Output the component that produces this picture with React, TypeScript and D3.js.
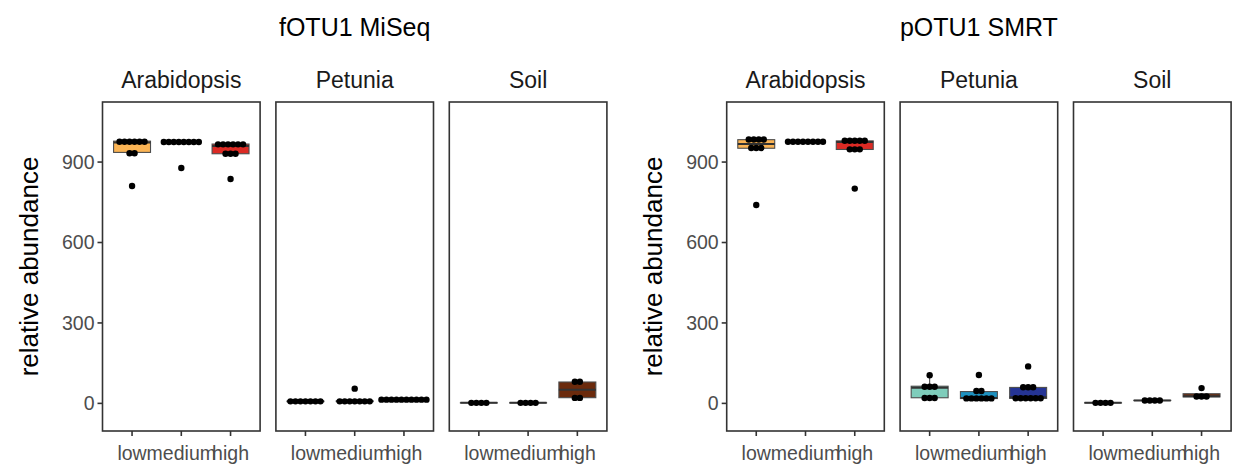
import React from "react";
import * as d3 from "d3";

// ---- data ----
const titles = ["fOTU1 MiSeq", "pOTU1 SMRT"];
const hosts = ["Arabidopsis", "Petunia", "Soil"];
const levels = ["low", "medium", "high"];
const yTicks = [0, 300, 600, 900];

// MiSeq (fOTU1) values per host: [low, medium, high]
const miseqArabidopsis = [
  [982, 980, 978, 975, 973, 970, 936, 930, 811],
  [978, 977, 976, 975, 975, 974, 973, 972, 878],
  [974, 970, 968, 965, 962, 958, 934, 930, 928, 837],
];
const miseqPetunia = [
  [10, 9, 8, 8, 7, 6, 5],
  [55, 10, 9, 8, 8, 7, 6, 5],
  [17, 16, 15, 15, 14, 14, 13, 12, 12, 11],
];
const miseqSoil = [
  [3, 2, 2, 1],
  [3, 2, 2, 1],
  [82, 79, 22, 19],
];

// SMRT (pOTU1) values per host: [low, medium, high]
const smrtArabidopsis = [
  [988, 985, 983, 980, 955, 952, 950, 740],
  [978, 977, 976, 976, 975, 975, 974, 973],
  [984, 981, 979, 977, 975, 950, 947, 945, 801],
];
const smrtPetunia = [
  [105, 66, 62, 58, 22, 20, 18],
  [106, 48, 44, 22, 20, 19, 18, 17, 15],
  [138, 62, 60, 58, 24, 22, 20, 18, 16, 14],
];
const smrtSoil = [
  [3, 2, 2, 1],
  [12, 11, 11, 10],
  [57, 29, 25, 22],
];

const fillArabidopsis = ["#FBB454", "#B3141B", "#DC2A24"];
const fillPetunia = ["#7FCDBB", "#1D91C0", "#253494"];
const fillSoil = ["#D9D9D9", "#969696", "#6B2A0C"];

const chartData = [
  [miseqArabidopsis, miseqPetunia, miseqSoil],
  [smrtArabidopsis, smrtPetunia, smrtSoil],
];
const fills = [fillArabidopsis, fillPetunia, fillSoil];

// ---- layout ----
const W = 1238;
const H = 468;
const chartLefts = [102.5, 726.7];
const panelW = 157.6;
const panelGap = 15.8;
const panelTop = 102;
const panelBottom = 431;
const FONT = "'Liberation Sans', Arial, Helvetica, sans-serif";

const y = d3.scaleLinear().domain([-103, 1124]).range([panelBottom, panelTop]);

function boxStats(vals: number[]) {
  const s = [...vals].sort(d3.ascending);
  const q1 = d3.quantileSorted(s, 0.25)!;
  const med = d3.quantileSorted(s, 0.5)!;
  const q3 = d3.quantileSorted(s, 0.75)!;
  const iqr = q3 - q1;
  const lo = s.filter((v) => v >= q1 - 1.5 * iqr);
  const hi = s.filter((v) => v <= q3 + 1.5 * iqr);
  return { q1, med, q3, wlo: d3.min(lo)!, whi: d3.max(hi)! };
}

function dotBins(vals: number[], bw: number) {
  const s = [...vals].sort(d3.ascending);
  const bins: { c: number; n: number }[] = [];
  let i = 0;
  while (i < s.length) {
    const start = s[i];
    let j = i;
    while (j < s.length && s[j] < start + bw) j++;
    const grp = s.slice(i, j);
    bins.push({ c: (grp[0] + grp[grp.length - 1]) / 2, n: grp.length });
    i = j;
  }
  return bins;
}

function Panel({ x0, vals, fill, host, showY }: any) {
  const x = d3.scalePoint<string>().domain(levels).range([x0, x0 + panelW]).padding(0.6);
  const step = x.step();
  const bw = 0.75 * step;
  return (
    <g>
      <text x={x0 + panelW / 2} y={88} textAnchor="middle" fontSize={23} fill="#1A1A1A" fontFamily={FONT}>
        {host}
      </text>
      {levels.map((lv, i) => {
        const st = boxStats(vals[i]);
        const cx = x(lv)!;
        const bins = dotBins(vals[i], 20);
        return (
          <g key={lv}>
            <line x1={cx} x2={cx} y1={y(st.whi)} y2={y(st.q3)} stroke="#4D4D4D" strokeWidth={1.1} />
            <line x1={cx} x2={cx} y1={y(st.q1)} y2={y(st.wlo)} stroke="#4D4D4D" strokeWidth={1.1} />
            <rect
              x={cx - bw / 2}
              y={y(st.q3)}
              width={bw}
              height={Math.max(0, y(st.q1) - y(st.q3))}
              fill={fill[i]}
              stroke="#4D4D4D"
              strokeWidth={1.1}
            />
            <line x1={cx - bw / 2} x2={cx + bw / 2} y1={y(st.med)} y2={y(st.med)} stroke="#333333" strokeWidth={2} />
            {bins.map((b, k) =>
              d3.range(b.n).map((j) => (
                <circle
                  key={k + "-" + j}
                  cx={cx + (j - (b.n - 1) / 2) * 5}
                  cy={y(b.c)}
                  r={3.2}
                  fill="#000"
                />
              ))
            )}
            <line x1={cx} x2={cx} y1={panelBottom} y2={panelBottom + 5} stroke="#333333" strokeWidth={1.6} />
            <text x={cx} y={panelBottom + 29} textAnchor="middle" fontSize={19.5} fill="#4D4D4D" fontFamily={FONT}>
              {lv}
            </text>
          </g>
        );
      })}
      <rect x={x0} y={panelTop} width={panelW} height={panelBottom - panelTop} fill="none" stroke="#333333" strokeWidth={1.6} />
      {showY &&
        yTicks.map((t) => (
          <g key={t}>
            <line x1={x0 - 5} x2={x0} y1={y(t)} y2={y(t)} stroke="#333333" strokeWidth={1.6} />
            <text x={x0 - 8} y={y(t)} dy="0.35em" textAnchor="end" fontSize={19.5} fill="#4D4D4D" fontFamily={FONT}>
              {t}
            </text>
          </g>
        ))}
    </g>
  );
}

export default function App() {
  return (
    <svg width={W} height={H} style={{ position: "absolute", left: 0, top: 0, background: "#fff" }}>
      <rect x={0} y={0} width={W} height={H} fill="#fff" />
      {chartLefts.map((cl, ci) => {
        const totalW = 3 * panelW + 2 * panelGap;
        return (
          <g key={ci}>
            <text x={cl + totalW / 2} y={36} textAnchor="middle" fontSize={25} fill="#000" fontFamily={FONT}>
              {titles[ci]}
            </text>
            <text
              transform={`translate(${cl - 65},${(panelTop + panelBottom) / 2}) rotate(-90)`}
              textAnchor="middle"
              fontSize={26}
              fill="#000"
              fontFamily={FONT}
            >
              relative abundance
            </text>
            {hosts.map((h, hi) => (
              <Panel
                key={h}
                x0={cl + hi * (panelW + panelGap)}
                vals={chartData[ci][hi]}
                fill={fills[hi]}
                host={h}
                showY={hi === 0}
              />
            ))}
          </g>
        );
      })}
    </svg>
  );
}
